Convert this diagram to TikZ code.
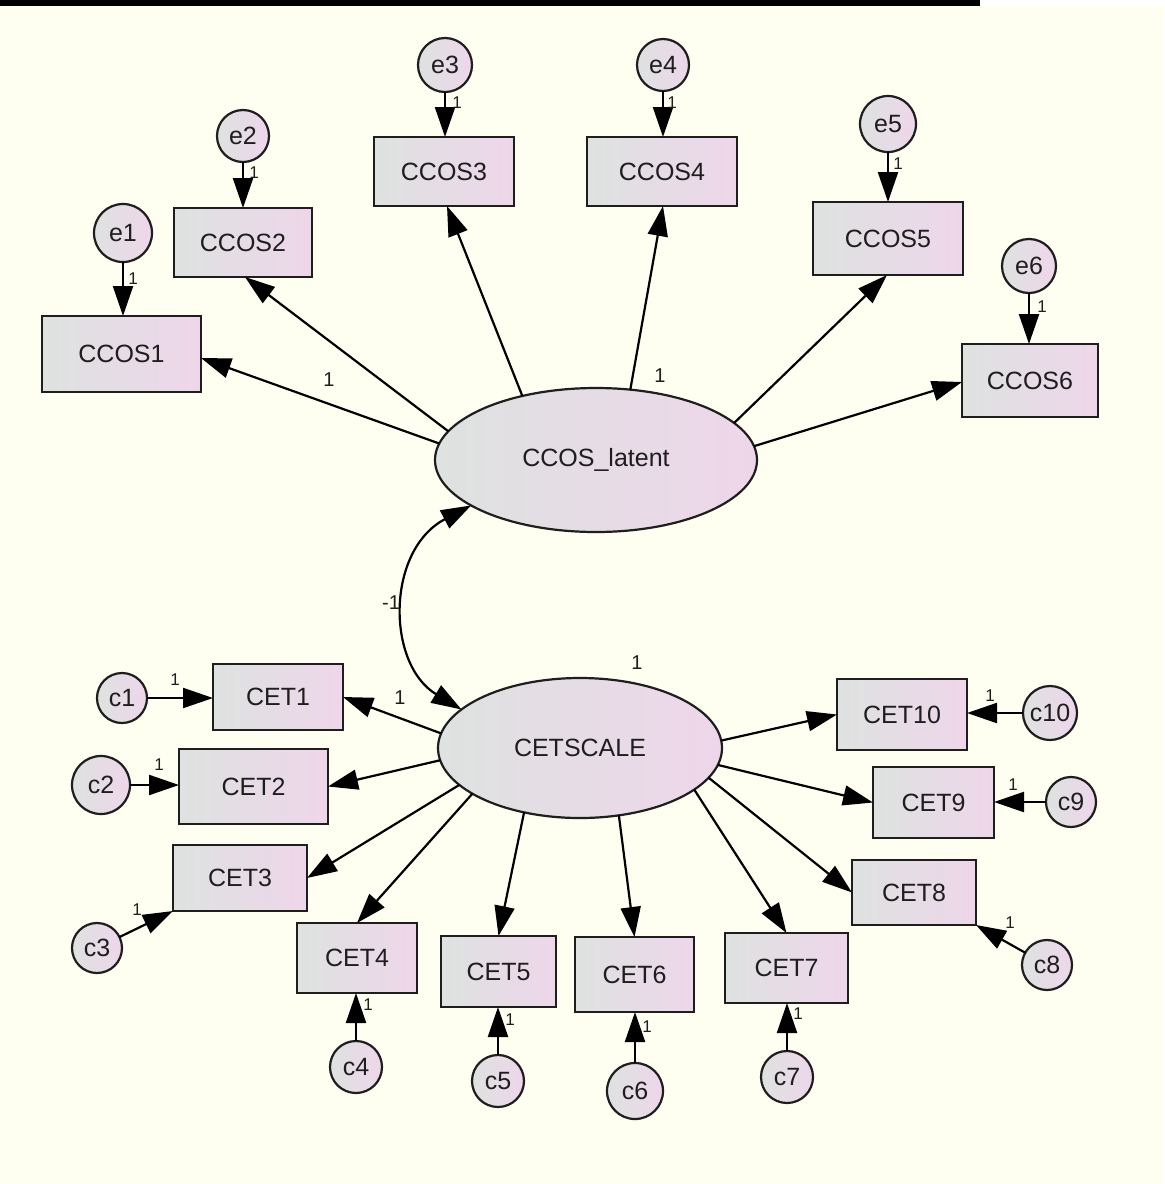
\documentclass[tikz,border=0pt]{standalone}
\usepackage{fontspec}
\setmainfont{Liberation Sans}
\usetikzlibrary{shapes.geometric,arrows.meta,calc}
\definecolor{bgc}{RGB}{254,255,240}
\definecolor{fillL}{RGB}{222,226,224}
\definecolor{fillR}{RGB}{238,214,234}
\definecolor{edgec}{RGB}{30,30,30}
\definecolor{txt}{RGB}{30,30,30}
\begin{document}
\begin{tikzpicture}[x=0.5pt,y=-0.5pt,
  obs/.style 2 args={draw=edgec, line width=1.4pt, rectangle, inner sep=0pt, outer sep=0pt,
    minimum width=#1*0.5pt, minimum height=#2*0.5pt, left color=fillL, right color=fillR,
    font=\fontsize{12.5}{14}\selectfont, text=txt},
  err/.style={draw=edgec, line width=1.1pt, circle, inner sep=0pt, outer sep=0pt,
    minimum size=#1pt, left color=fillL, right color=fillR,
    font=\fontsize{12.5}{14}\selectfont, text=txt},
  lat/.style 2 args={draw=edgec, line width=1.1pt, ellipse, inner sep=0pt, outer sep=0pt,
    minimum width=#1*0.5pt, minimum height=#2*0.5pt, left color=fillL, right color=fillR,
    font=\fontsize{12.5}{14}\selectfont, text=txt},
  ld/.style={draw=black, line width=1.1pt, -{Triangle[length=15pt,width=10pt]}},
  cov/.style={draw=black, line width=1.1pt, {Triangle[length=15pt,width=10pt]}-{Triangle[length=15pt,width=10pt]}},
  lbs/.style={font=\fontsize{8.5}{9}\selectfont, text=txt, inner sep=0pt},
  lbl/.style={font=\fontsize{10}{11}\selectfont, text=txt, inner sep=0pt}
]
\useasboundingbox (0,0) rectangle (1164,1184);
\fill[bgc] (0,0) rectangle (1164,1184);
\fill[white] (980,0) rectangle (1164,6);
\fill[black] (0,0) rectangle (980,6);

% latent variables
\node[lat={322}{144}] (lat) at (596,460) {CCOS\_latent};
\node[lat={284}{140}] (cet) at (580,748) {CETSCALE};

% observed CCOS
\node[obs={159}{76}] (ccos1) at (121.5,354) {CCOS1};
\node[obs={138}{69}] (ccos2) at (243,242.5) {CCOS2};
\node[obs={140}{69}] (ccos3) at (444,171.5) {CCOS3};
\node[obs={150}{69}] (ccos4) at (662,171.5) {CCOS4};
\node[obs={150}{73}] (ccos5) at (888,238.5) {CCOS5};
\node[obs={136}{73}] (ccos6) at (1030,380.5) {CCOS6};

% observed CET
\node[obs={130}{66}] (cet1) at (278,697) {CET1};
\node[obs={149}{75}] (cet2) at (253.5,786.5) {CET2};
\node[obs={134}{66}] (cet3) at (240,878) {CET3};
\node[obs={120}{70}] (cet4) at (357,958) {CET4};
\node[obs={115}{71}] (cet5) at (498.5,971.5) {CET5};
\node[obs={119}{75}] (cet6) at (634.5,974.5) {CET6};
\node[obs={123}{70}] (cet7) at (786.5,968) {CET7};
\node[obs={124}{65}] (cet8) at (914,892.5) {CET8};
\node[obs={121}{71}] (cet9) at (933.5,802.5) {CET9};
\node[obs={130}{71}] (cet10) at (902,714.5) {CET10};

% error terms
\node[err=29] (e1) at (123,233) {e1};
\node[err=26] (e2) at (243,136) {e2};
\node[err=27] (e3) at (445,65) {e3};
\node[err=26] (e4) at (663,65) {e4};
\node[err=28] (e5) at (888,124) {e5};
\node[err=27] (e6) at (1029,266) {e6};
\node[err=25] (c1) at (122,698) {c1};
\node[err=29] (c2) at (101,785) {c2};
\node[err=25] (c3) at (97,948) {c3};
\node[err=26] (c4) at (356,1067) {c4};
\node[err=26] (c5) at (498,1081) {c5};
\node[err=28] (c6) at (635,1091) {c6};
\node[err=26] (c7) at (787,1077) {c7};
\node[err=25] (c8) at (1047,965) {c8};
\node[err=25] (c9) at (1071,802) {c9};
\node[err=27] (c10) at (1050,713) {c10};

% loadings CCOS
\draw[ld] (lat.174) -- ($(ccos1.east)+(0,4)$);
\draw[ld] (lat.169) -- ($(ccos2.south)+(2,0)$);
\draw[ld] (lat.139) -- ($(ccos3.south)+(3,0)$);
\draw[ld] (lat.64) -- ($(ccos4.south)+(1,0)$);
\draw[ld] (lat.15) -- ($(ccos5.south)+(-1,0)$);
\draw[ld] (lat.5) -- ($(ccos6.west)+(0,1.5)$);

% loadings CET
\draw[ld] (cet.174) -- (cet1.east);
\draw[ld] (cet.185) -- (cet2.east);
\draw[ld] (cet.197) -- (cet3.east);
\draw[ld] (cet.203) -- (cet4.north);
\draw[ld] (cet.229) -- (cet5.north);
\draw[ld] (cet.300) -- (cet6.north);
\draw[ld] (cet.340) -- (cet7.north);
\draw[ld] (cet.347) -- (cet8.west);
\draw[ld] (cet.353) -- (cet9.west);
\draw[ld] (cet.3) -- (cet10.west);

% error paths
\draw[ld] (e1) -- (e1 |- ccos1.north);
\draw[ld] (e2) -- (e2 |- ccos2.north);
\draw[ld] (e3) -- (e3 |- ccos3.north);
\draw[ld] (e4) -- (e4 |- ccos4.north);
\draw[ld] (e5) -- (e5 |- ccos5.north);
\draw[ld] (e6) -- (e6 |- ccos6.north);
\draw[ld] (c1) -- (c1 -| cet1.west);
\draw[ld] (c2) -- (c2 -| cet2.west);
\draw[ld] (c3) -- (cet3.south west);
\draw[ld] (c4) -- (c4 |- cet4.south);
\draw[ld] (c5) -- (c5 |- cet5.south);
\draw[ld] (c6) -- (c6 |- cet6.south);
\draw[ld] (c7) -- (c7 |- cet7.south);
\draw[ld] (c8) -- (cet8.south east);
\draw[ld] (c9) -- (c9 -| cet9.east);
\draw[ld] (c10) -- (c10 -| cet10.east);

% covariance
\draw[cov] (lat.200) .. controls (386,550) and (386,664) .. (cet.162);

% labels
\node[lbs] (le1) at (133,279) {1};
\node[lbs] (le2) at (254,173) {1};
\node[lbs] (le3) at (457,103) {1};
\node[lbs] (le4) at (672,103) {1};
\node[lbs] (le5) at (898,164) {1};
\node[lbs] (le6) at (1042,307) {1};
\node[lbs] (lc1) at (175,680) {1};
\node[lbs] (lc2) at (159,765) {1};
\node[lbs] (lc3) at (137,910) {1};
\node[lbs] (lc4) at (368,1005) {1};
\node[lbs] (lc5) at (510,1020) {1};
\node[lbs] (lc6) at (647,1027) {1};
\node[lbs] (lc7) at (798,1014) {1};
\node[lbs] (lc8) at (1010,923) {1};
\node[lbs] (lc9) at (1013,785) {1};
\node[lbs] (lc10) at (990,696) {1};
\node[lbl] (lccos1) at (329,380) {1};
\node[lbl] (lccos4) at (660,376) {1};
\node[lbl] (lcet1) at (400,698) {1};
\node[lbl] (lcetv) at (637,663) {1};
\node[lbl] (lcov) at (391,603) {-1};
\end{tikzpicture}
\end{document}
